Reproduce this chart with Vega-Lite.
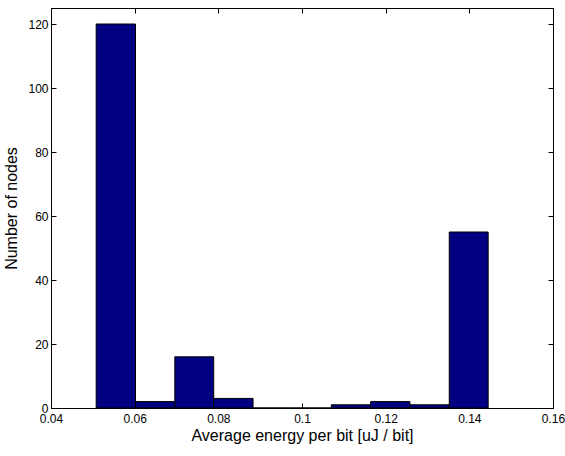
{
  "$schema": "https://vega.github.io/schema/vega-lite/v6.json",
  "width": 502,
  "height": 400,
  "autosize": "none",
  "padding": {"left": 51, "top": 8, "right": 12, "bottom": 48},
  "background": "white",
  "config": {
    "font": "Liberation Sans",
    "view": {"stroke": "black", "strokeWidth": 1},
    "axis": {
      "domainColor": "black",
      "tickColor": "black",
      "labelColor": "black",
      "titleColor": "black",
      "grid": false,
      "labelFontSize": 12,
      "titleFontSize": 16,
      "titleFontWeight": "normal",
      "tickSize": -5,
      "labelFont": "Liberation Sans",
      "titleFont": "Liberation Sans"
    }
  },
  "data": {
    "values": [
      {"start": 0.0508, "end": 0.0602, "count": 120},
      {"start": 0.0602, "end": 0.0696, "count": 2},
      {"start": 0.0696, "end": 0.0789, "count": 16},
      {"start": 0.0789, "end": 0.0883, "count": 3},
      {"start": 0.0883, "end": 0.0977, "count": 0},
      {"start": 0.0977, "end": 0.1070, "count": 0},
      {"start": 0.1070, "end": 0.1164, "count": 1},
      {"start": 0.1164, "end": 0.1258, "count": 2},
      {"start": 0.1258, "end": 0.1352, "count": 1},
      {"start": 0.1352, "end": 0.1445, "count": 55}
    ]
  },
  "layer": [
    {
      "mark": {"type": "bar", "fill": "#000080", "stroke": "black", "strokeWidth": 1, "orient": "vertical"},
      "encoding": {
        "x": {
          "field": "start", "type": "quantitative",
          "scale": {"domain": [0.04, 0.16], "nice": false, "zero": false, "padding": 0},
          "axis": {"orient": "bottom", "values": [0.04, 0.06, 0.08, 0.1, 0.12, 0.14, 0.16], "labelExpr": "format(datum.value, '.2~f')", "title": "Average energy per bit [uJ / bit]", "labelPadding": 10, "titlePadding": 3, "labelFlush": false}
        },
        "x2": {"field": "end"},
        "y": {
          "field": "count", "type": "quantitative",
          "scale": {"domain": [0, 125], "nice": false, "padding": 0},
          "axis": {"orient": "left", "values": [0, 20, 40, 60, 80, 100, 120], "title": "Number of nodes", "labelPadding": 8, "titlePadding": 8}
        },
        "y2": {"datum": 0}
      }
    },
    {
      "mark": {"type": "bar", "opacity": 0, "orient": "vertical"},
      "encoding": {
        "x": {
          "field": "start", "type": "quantitative",
          "scale": {"domain": [0.04, 0.16], "nice": false, "zero": false, "padding": 0},
          "axis": {"orient": "top", "values": [0.04, 0.06, 0.08, 0.1, 0.12, 0.14, 0.16], "labels": false, "title": null}
        },
        "x2": {"field": "end"},
        "y": {
          "field": "count", "type": "quantitative",
          "scale": {"domain": [0, 125], "nice": false, "padding": 0},
          "axis": {"orient": "right", "values": [0, 20, 40, 60, 80, 100, 120], "labels": false, "title": null}
        },
        "y2": {"datum": 0}
      }
    }
  ],
  "resolve": {"axis": {"x": "independent", "y": "independent"}}
}
